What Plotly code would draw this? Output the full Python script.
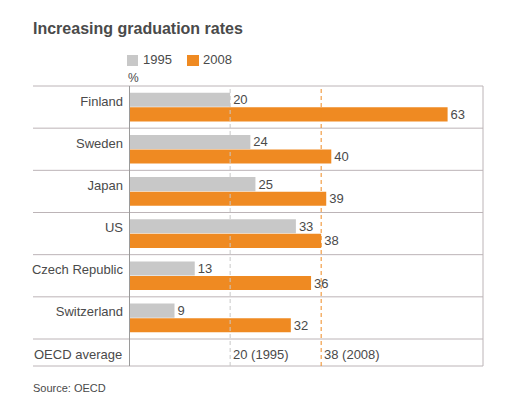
import plotly.graph_objects as go

# ---- data ----
countries = ["Finland", "Sweden", "Japan", "US", "Czech Republic", "Switzerland"]
series_names = ["1995", "2008"]
values_1995 = [20, 24, 25, 33, 13, 9]
values_2008 = [63, 40, 39, 38, 36, 32]
oecd_label = "OECD average"
oecd_values = [20, 38]
title_text = "Increasing graduation rates"
source_text = "Source: OECD"
unit_text = "%"

# ---- style ----
OFF = 8  # page body margin
W, H = 522 - OFF, 415 - OFF
L = 129 - OFF
R = 522 - 483
T = 86 - OFF
B = H - (339 - OFF)
PW, PH = W - L - R, H - T - B
GREY = "#c8c8c8"
ORANGE = "#ef8a22"
TXT = "#4a4a4a"
LINE = "#bcb4b7"
FONT = "Liberation Sans, Arial, sans-serif"


def px_x(px):
    return (px - OFF - L) / PW


def px_y(py):
    return (H - B - (py - OFF)) / PH


fig = go.Figure()
for name, vals, col in [(series_names[0], values_1995, GREY), (series_names[1], values_2008, ORANGE)]:
    fig.add_trace(go.Bar(
        y=countries, x=vals, orientation="h", name=name,
        marker=dict(color=col, line=dict(width=0)),
        text=[str(v) for v in vals], textposition="outside",
        textfont=dict(family=FONT, size=13, color=TXT),
        cliponaxis=False, constraintext="none",
    ))

shapes = []
n = len(countries)
bottom = px_y(366)
for k in range(n + 1):
    yk = 1 - k / n
    shapes.append(dict(type="line", xref="paper", yref="paper", x0=px_x(33), x1=1, y0=yk, y1=yk,
                       line=dict(color=LINE, width=1)))
shapes.append(dict(type="line", xref="paper", yref="paper", x0=px_x(33), x1=1, y0=bottom, y1=bottom,
                   line=dict(color=LINE, width=1)))
shapes.append(dict(type="line", xref="paper", yref="paper", x0=1, x1=1, y0=bottom, y1=1,
                   line=dict(color=LINE, width=1)))
shapes.append(dict(type="line", xref="x", yref="paper", x0=0, x1=0, y0=bottom, y1=1,
                   line=dict(color="#9a9a9a", width=2)))
shapes.append(dict(type="line", xref="x", yref="paper", x0=oecd_values[0], x1=oecd_values[0], y0=bottom, y1=1,
                   line=dict(color=GREY, width=1, dash="4px,3px")))
shapes.append(dict(type="line", xref="x", yref="paper", x0=oecd_values[1], x1=oecd_values[1], y0=bottom, y1=1,
                   line=dict(color=ORANGE, width=1, dash="4px,3px")))
shapes.append(dict(type="rect", xref="paper", yref="paper", x0=px_x(127), x1=px_x(138), y0=px_y(66), y1=px_y(55),
                   fillcolor=GREY, line=dict(width=0)))
shapes.append(dict(type="rect", xref="paper", yref="paper", x0=px_x(187), x1=px_x(199), y0=px_y(66), y1=px_y(55),
                   fillcolor=ORANGE, line=dict(width=0)))

ann = []
ann.append(dict(text="<b>" + title_text + "</b>", xref="paper", yref="paper", x=px_x(31), y=px_y(29),
                xanchor="left", yanchor="middle", showarrow=False,
                font=dict(family=FONT, size=16, color=TXT)))
ann.append(dict(text=series_names[0], xref="paper", yref="paper", x=px_x(141), y=px_y(60),
                xanchor="left", yanchor="middle", showarrow=False, font=dict(family=FONT, size=13, color=TXT)))
ann.append(dict(text=series_names[1], xref="paper", yref="paper", x=px_x(201), y=px_y(60),
                xanchor="left", yanchor="middle", showarrow=False, font=dict(family=FONT, size=13, color=TXT)))
ann.append(dict(text=unit_text, xref="paper", yref="paper", x=px_x(126), y=px_y(78),
                xanchor="left", yanchor="middle", showarrow=False, font=dict(family=FONT, size=12, color=TXT)))
ann.append(dict(text=oecd_label, xref="paper", yref="paper", x=0, xshift=-5, y=px_y(354),
                xanchor="right", yanchor="middle", showarrow=False, font=dict(family=FONT, size=13, color=TXT)))
for v, nm in zip(oecd_values, series_names):
    ann.append(dict(text=f"{v} ({nm})", xref="x", yref="paper", x=v, xshift=1, y=px_y(354),
                    xanchor="left", yanchor="middle", showarrow=False, font=dict(family=FONT, size=13, color=TXT)))
ann.append(dict(text=source_text, xref="paper", yref="paper", x=px_x(31), y=px_y(388),
                xanchor="left", yanchor="middle", showarrow=False, font=dict(family=FONT, size=11, color=TXT)))

fig.update_layout(
    width=W, height=H, autosize=False,
    margin=dict(l=L, r=R, t=T, b=B, pad=0),
    paper_bgcolor="white", plot_bgcolor="white",
    barmode="group", bargap=0.31, bargroupgap=0.035,
    showlegend=False,
    xaxis=dict(range=[0, 70], showgrid=False, zeroline=False, showticklabels=False, ticks="", showline=False),
    yaxis=dict(type="category", categoryorder="array", categoryarray=countries, range=[n - 0.5, -0.5],
               showgrid=False, zeroline=False, ticks="", showline=False, ticklabelstandoff=5,
               ticklabelshift=6,
               tickfont=dict(family=FONT, size=13, color=TXT)),
    shapes=shapes, annotations=ann,
    font=dict(family=FONT, color=TXT),
)

fig.write_html("out.html")
